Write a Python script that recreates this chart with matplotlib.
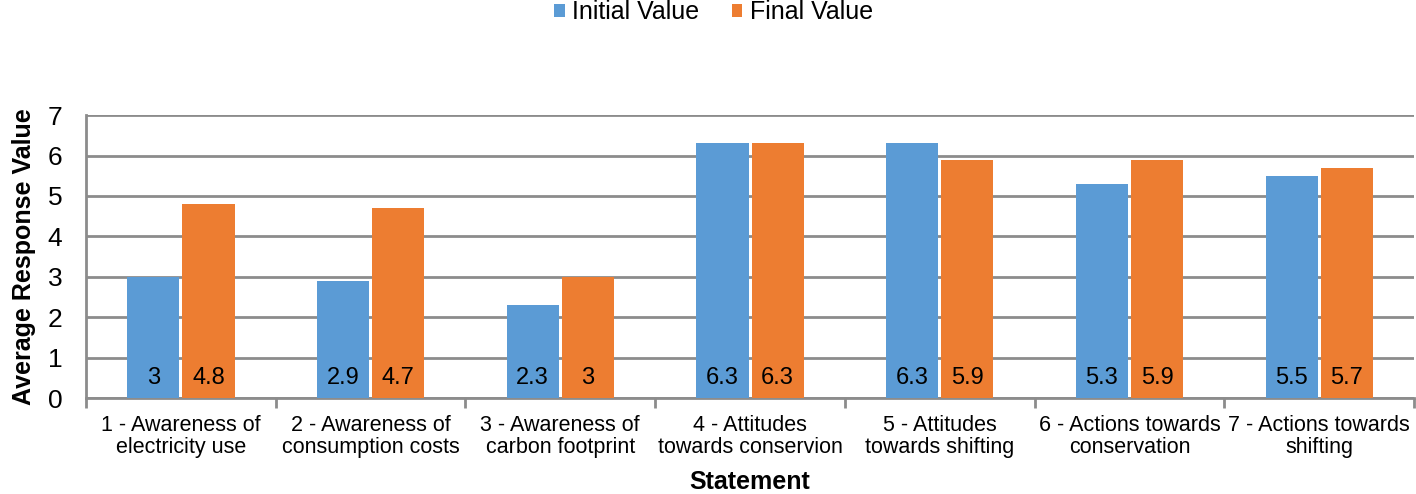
import numpy as np
import matplotlib
matplotlib.use('Agg')
from matplotlib import pyplot as plt

plt.rcParams['font.family'] = ['Liberation Sans', 'DejaVu Sans']

# Data
statements = ['1 - Awareness of\nelectricity use', '2 - Awareness of\nconsumption costs',
              '3 - Awareness of\ncarbon footprint', '4 - Attitudes\ntowards conservion',
              '5 - Attitudes\ntowards shifting', '6 - Actions towards\nconservation',
              '7 - Actions towards\nshifting']
initial_values = [3, 2.9, 2.3, 6.3, 6.3, 5.3, 5.5]
final_values = [4.8, 4.7, 3, 6.3, 5.9, 5.9, 5.7]

blue = '#5b9bd5'
orange = '#ed7d31'
grid_gray = '#8c8c8c'

fig = plt.figure(figsize=(14.16, 4.94), dpi=100)
ax = fig.add_axes([0.0607, 0.194, 0.938, 0.573])

x = np.arange(len(statements))
w = 0.275
gap = 0.008
b1 = ax.bar(x - w / 2 - gap, initial_values, w, color=blue, label='Initial Value', zorder=3)
b2 = ax.bar(x + w / 2 + gap, final_values, w, color=orange, label='Final Value', zorder=3)

for bars, vals in [(b1, initial_values), (b2, final_values)]:
    for bar, v in zip(bars, vals):
        ax.text(bar.get_x() + bar.get_width() / 2, 0.5, '{:g}'.format(v),
                ha='center', va='center', fontsize=17, zorder=4)

ax.set_ylim(0, 7)
ax.set_xlim(-0.5, len(statements) - 0.5)
ax.set_yticks(range(8))
ax.yaxis.grid(True, color=grid_gray, linewidth=2, zorder=0)
ax.tick_params(axis='y', length=0, labelsize=19, pad=17)

ax.set_xticks(x)
ax.set_xticklabels(statements, fontsize=15.5, linespacing=1.05)
ax.tick_params(axis='x', length=0, pad=12)
ax.set_xticks(np.arange(-0.5, len(statements)), minor=True)
ax.tick_params(axis='x', which='minor', length=7, width=2, color=grid_gray)

for s in ['top', 'right']:
    ax.spines[s].set_visible(False)
for s in ['left', 'bottom']:
    ax.spines[s].set_color(grid_gray)
    ax.spines[s].set_linewidth(2)

ax.set_ylabel('Average Response Value', fontsize=18, fontweight='bold', labelpad=8)
ax.set_xlabel('Statement', fontsize=18, fontweight='bold', labelpad=9)

fig.legend(loc='upper center', bbox_to_anchor=(0.504, 1.045), ncol=2, frameon=False,
           fontsize=18, handlelength=0.42, handleheight=0.42, handletextpad=0.3,
           columnspacing=1.3)

fig.savefig('out.png', dpi=100)
